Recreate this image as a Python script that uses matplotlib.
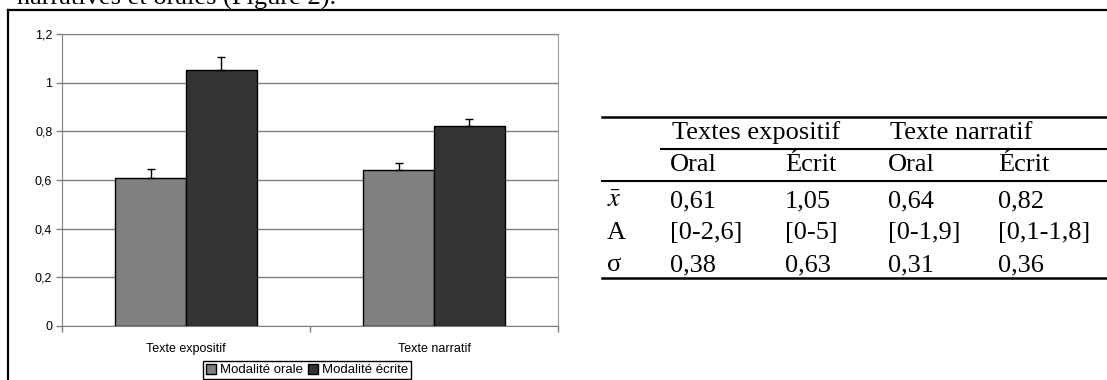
import matplotlib
matplotlib.use("Agg")
import matplotlib.pyplot as plt
from matplotlib.lines import Line2D
import numpy as np

# chart data
categories = ["Texte expositif", "Texte narratif"]
orale = [0.61, 0.64]
ecrite = [1.05, 0.82]
err_orale = [0.035, 0.03]
err_ecrite = [0.055, 0.03]
yticks = [0, 0.2, 0.4, 0.6, 0.8, 1.0, 1.2]
ytick_labels = ["0", "0,2", "0,4", "0,6", "0,8", "1", "1,2"]

# table data
groups = ["Textes expositif", "Texte narratif"]
subheads = ["Oral", "Écrit", "Oral", "Écrit"]
row_labels = [r"$\bar{x}$", "A", "σ"]
means = ["0,61", "1,05", "0,64", "0,82"]
ranges = ["[0-2,6]", "[0-5]", "[0-1,9]", "[0,1-1,8]"]
sds = ["0,38", "0,63", "0,31", "0,36"]

plt.rcParams["mathtext.fontset"] = "stix"

W, H = 1107, 380
fig = plt.figure(figsize=(W / 100, H / 100), dpi=100)


def fx(x):
    return x / W


def fy(y):
    return 1 - y / H


# cut-off sentence above the frame
fig.text(fx(17), fy(4.5), "narratives et orales (Figure 2).", family="Liberation Serif",
         fontsize=19, va="baseline", ha="left")

# frame around the figure
fig.add_artist(Line2D([fx(8), fx(8)], [fy(10), fy(400)], transform=fig.transFigure, color="black", lw=1.6))
fig.add_artist(Line2D([fx(8), fx(1120)], [fy(10), fy(10)], transform=fig.transFigure, color="black", lw=1.6))

# bar chart
ax = fig.add_axes([fx(62), fy(326), (558 - 62) / W, (326 - 34) / H])
x = np.arange(len(categories))
w = 0.286
ax.bar(x - w / 2, orale, w, color="#808080", edgecolor="black", lw=1, zorder=3,
       label="Modalité orale")
ax.bar(x + w / 2, ecrite, w, color="#333333", edgecolor="black", lw=1, zorder=3,
       label="Modalité écrite")
ax.errorbar(x - w / 2, orale, yerr=[[0, 0], err_orale], fmt="none", ecolor="black",
            elinewidth=1, capsize=3, capthick=1, zorder=4)
ax.errorbar(x + w / 2, ecrite, yerr=[[0, 0], err_ecrite], fmt="none", ecolor="black",
            elinewidth=1, capsize=3, capthick=1, zorder=4)

ax.set_xlim(-0.5, 1.5)
ax.set_ylim(0, 1.2)
ax.set_yticks(yticks)
ax.set_yticklabels(ytick_labels, family="Liberation Sans", fontsize=9)
ax.yaxis.grid(True, color="#808080", lw=1, zorder=0)
ax.tick_params(axis="y", length=4, width=1, color="#808080", pad=3)

ax.set_xticks(x)
ax.set_xticklabels(categories, family="Liberation Sans", fontsize=9)
ax.set_xticks([-0.5, 0.5, 1.5], minor=True)
ax.tick_params(axis="x", which="major", length=0, pad=12)
ax.tick_params(axis="x", which="minor", length=4, width=1, color="#808080")

for s in ["left", "bottom", "top"]:
    ax.spines[s].set_color("#808080")
ax.spines["right"].set_color("#a0a0a0")

leg = ax.legend(loc="center", bbox_to_anchor=(0.494, -0.151), ncol=2,
                prop={"family": "Liberation Sans", "size": 9.5},
                handlelength=0.75, handleheight=0.75, handletextpad=0.3,
                columnspacing=0.4, borderpad=0.2, fancybox=False, framealpha=1)
leg.get_frame().set_edgecolor("black")
leg.get_frame().set_linewidth(1)

# table
serif = dict(family="Liberation Serif", fontsize=19, va="center", ha="left")
col_x = [670, 785, 888, 998]
group_x = [672, 890]
row_y = [201, 233, 265]

for gx, g in zip(group_x, groups):
    fig.text(fx(gx), fy(133), g, **serif)
for cx, s in zip(col_x, subheads):
    fig.text(fx(cx), fy(165), s, **serif)
for ry, lab in zip(row_y, row_labels):
    fig.text(fx(607), fy(ry), lab, **serif)
for ry, vals in zip(row_y, [means, ranges, sds]):
    for cx, v in zip(col_x, vals):
        fig.text(fx(cx), fy(ry), v, **serif)

rules = [(602, 117, 1.8), (661, 149, 1.5), (602, 181, 1.5), (602, 278, 1.8)]
for x0, y0, lw in rules:
    fig.add_artist(Line2D([fx(x0), fx(1110)], [fy(y0), fy(y0)], transform=fig.transFigure,
                          color="black", lw=lw))

fig.savefig("out.png", dpi=100)
